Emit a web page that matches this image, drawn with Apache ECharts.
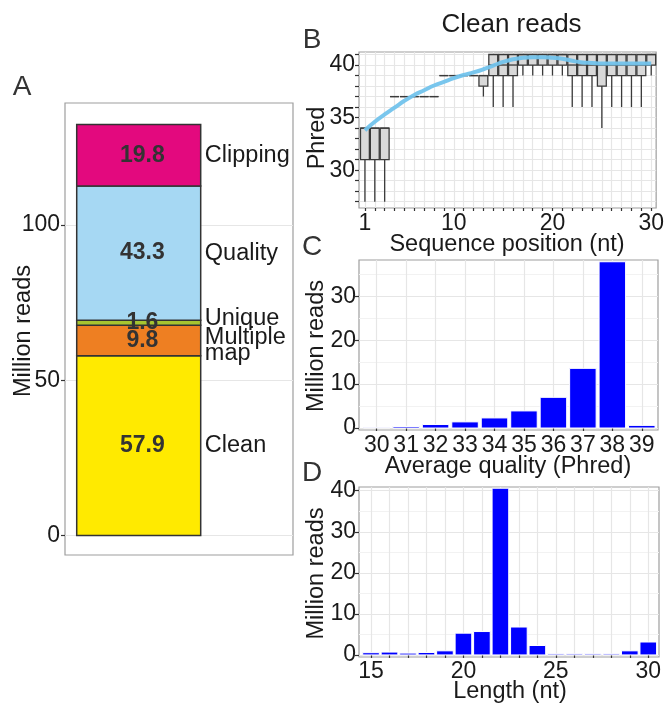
<!DOCTYPE html>
<html><head><meta charset="utf-8">
<script src="https://cdn.jsdelivr.net/npm/echarts@6/dist/echarts.min.js"></script>
<style>html,body{margin:0;padding:0;background:#fff}#c{width:667px;height:704px}</style>
</head><body><div id="c"></div>
<script>
// ---------- Panel A: read fate (million reads) ----------
const segNames  = ['Clean', 'Multiple\nmap', 'Unique', 'Quality', 'Clipping'];
const segValues = [57.9, 9.8, 1.6, 43.3, 19.8];
const segColors = ['#FFEA00', '#EE7F22', '#A6C530', '#A6D8F3', '#E3097E'];
const aYTicks   = [0, 50, 100];

// ---------- Panel B: per-position Phred boxplots ----------
const seqPos  = [1,2,3,4,5,6,7,8,9,10,11,12,13,14,15,16,17,18,19,20,21,22,23,24,25,26,27,28,29,30];
const boxMin  = [27,27,27,37,37,37,37,37,39,39,39,39,37,36,36,36,39,39,39,39,39,36,36,36,34,36,36,36,36,39];
const boxQ1   = [31,31,31,37,37,37,37,37,39,39,39,39,38,39,39,39,40,40,40,40,40,39,39,39,38,39,39,39,39,40];
const boxMed  = [34,34,34,37,37,37,37,37,39,39,39,39,39,40,40,40,41,41,41,41,41,40,40,40,40,40,40,40,40,41];
const boxQ3   = [34,34,34,37,37,37,37,37,39,39,39,39,39,41,41,41,41,41,41,41,41,41,41,41,41,41,41,41,41,41];
const boxMax  = [34,34,34,37,37,37,37,37,39,39,39,39,39,41,41,41,41,41,41,41,41,41,41,41,41,41,41,41,41,41];
const phredSmooth = [33.8,34.6,35.3,35.95,36.6,37.15,37.6,38.05,38.4,38.75,39.05,39.3,39.6,39.95,40.3,40.55,40.7,40.75,40.75,40.7,40.6,40.4,40.25,40.2,40.15,40.15,40.15,40.15,40.15,40.15];
const bYGrid   = [27,28,29,30,31,32,33,34,35,36,37,38,39,40,41];
const bYLabels = [30, 35, 40];
const bXLabels = [1, 10, 20, 30];

// ---------- Panel C: average quality histogram ----------
const qualityCats  = [30,31,32,33,34,35,36,37,38,39];
const qualityReads = [0.15,0.35,0.8,1.4,2.3,3.9,7.0,13.6,37.9,0.6];
const cYTicks = [0, 10, 20, 30];

// ---------- Panel D: length histogram ----------
const lengths     = [15,16,17,18,19,20,21,22,23,24,25,26,27,28,29,30];
const lengthReads = [0.55,0.7,0.45,0.6,1.0,5.3,5.7,40.6,6.8,2.3,0.25,0.25,0.25,0.25,1.0,3.15];
const dYTicks  = [0, 10, 20, 30, 40];
const dXLabels = [15, 20, 25, 30];

// ---------- drawing ----------
const FONT = "'Liberation Sans', Arial, Helvetica, sans-serif";
const TXT = '#1a1a1a';
const TICK_FS = 23, TITLE_FS = 23.5;
const labelNudgePx = [0, 5, -4, 0, 0];

const segBottoms = [];
{ let acc = 0; segValues.forEach(v => { segBottoms.push(acc); acc += v; }); }

function txt(text, x, y, opts) {
  opts = opts || {};
  return {
    type: 'text', x: x, y: y, rotation: opts.rot || 0, z: 100,
    style: {
      text: text, fill: opts.color || TXT, fontFamily: FONT,
      fontSize: opts.size || TITLE_FS, fontWeight: opts.weight || 'normal',
      align: opts.align || 'center', verticalAlign: 'middle',
      textAlign: opts.align || 'center', textVerticalAlign: 'middle'
    }
  };
}

const gridLine = { show: true, lineStyle: { color: '#e6e6e6', width: 1.2 } };
const tickStyle = { lineStyle: { color: '#333', width: 1.2 } };
function lbl(custom, margin) {
  return { customValues: custom, margin: margin, fontSize: TICK_FS, color: TXT, fontFamily: FONT };
}

function barRender(color) {
  return function (params, api) {
    const x = api.value(0), v = api.value(1);
    const a = api.coord([x - 0.45, 0]);
    const b = api.coord([x + 0.45, v]);
    return { type: 'rect', shape: { x: a[0], y: b[1], width: b[0] - a[0], height: a[1] - b[1] },
             style: { fill: color, stroke: '#ffffff', lineWidth: 1 } };
  };
}

const option = {
  animation: false,
  backgroundColor: '#ffffff',
  grid: [
    { left: 65, top: 103, width: 228, height: 452, show: true, borderColor: '#9e9e9e', borderWidth: 1.2 },
    { left: 359, top: 52, width: 299, height: 156, show: true, borderColor: '#9e9e9e', borderWidth: 1.2 },
    { left: 359, top: 260, width: 299, height: 170, show: true, borderColor: '#9e9e9e', borderWidth: 1.2 },
    { left: 359, top: 487, width: 300, height: 170, show: true, borderColor: '#9e9e9e', borderWidth: 1.2 }
  ],
  xAxis: [
    { gridIndex: 0, type: 'value', min: 0.465, max: 2.12, show: false },
    { gridIndex: 1, type: 'value', min: 0.4, max: 30.5,
      axisLine: { show: false }, axisTick: Object.assign({ customValues: seqPos, length: 3 }, tickStyle),
      axisLabel: lbl(bXLabels, 4), splitLine: gridLine },
    { gridIndex: 2, type: 'value', min: 29.4, max: 39.55,
      axisLine: { show: false }, axisTick: Object.assign({ customValues: qualityCats, length: 3 }, tickStyle),
      axisLabel: lbl(qualityCats, 4), splitLine: gridLine },
    { gridIndex: 3, type: 'value', min: 14.35, max: 30.58,
      axisLine: { show: false }, axisTick: Object.assign({ customValues: lengths, length: 3 }, tickStyle),
      axisLabel: lbl(dXLabels, 3.5), splitLine: gridLine }
  ],
  yAxis: [
    { gridIndex: 0, type: 'value', min: -6.28, max: 139.3,
      axisLine: { show: false }, axisTick: Object.assign({ customValues: aYTicks, length: 4 }, tickStyle),
      axisLabel: lbl(aYTicks, 5), splitLine: gridLine },
    { gridIndex: 1, type: 'value', min: 26.4, max: 41.24,
      axisLine: { show: false }, axisTick: Object.assign({ customValues: bYGrid, length: 4 }, tickStyle),
      axisLabel: lbl(bYLabels, 4), splitLine: gridLine },
    { gridIndex: 2, type: 'value', min: -0.45, max: 38.3,
      axisLine: { show: false }, axisTick: Object.assign({ customValues: cYTicks, length: 4 }, tickStyle),
      axisLabel: lbl(cYTicks, 3), splitLine: gridLine,
      minorTick: { show: false, splitNumber: 2 },
      minorSplitLine: { show: true, lineStyle: { color: '#f2f2f2', width: 1 } } },
    { gridIndex: 3, type: 'value', min: -0.5, max: 40.9,
      axisLine: { show: false }, axisTick: Object.assign({ customValues: dYTicks, length: 4 }, tickStyle),
      axisLabel: lbl(dYTicks, 3), splitLine: gridLine,
      minorTick: { show: false, splitNumber: 2 },
      minorSplitLine: { show: true, lineStyle: { color: '#f2f2f2', width: 1 } } }
  ],
  series: [
    // A: stacked segments
    { type: 'custom', xAxisIndex: 0, yAxisIndex: 0, z: 2,
      data: segValues.map((v, i) => [segBottoms[i], segBottoms[i] + v]),
      renderItem: function (p, api) {
        const a = api.coord([0.55, api.value(0)]);
        const b = api.coord([1.45, api.value(1)]);
        return { type: 'rect', shape: { x: a[0], y: b[1], width: b[0] - a[0], height: a[1] - b[1] },
                 style: { fill: segColors[p.dataIndex], stroke: '#333', lineWidth: 1.5 } };
      } },
    // A: texts
    { type: 'custom', xAxisIndex: 0, yAxisIndex: 0, z: 5,
      data: segValues.map((v, i) => [segBottoms[i] + v / 2, v]),
      renderItem: function (p, api) {
        const mid = api.value(0);
        const pv = api.coord([1.027, mid]);
        const pn = api.coord([1.48, mid]);
        return { type: 'group', children: [
          { type: 'text', x: pv[0], y: pv[1], style: { text: api.value(1).toFixed(1), fill: '#333',
              fontFamily: FONT, fontSize: 23, fontWeight: 'bold', align: 'center', verticalAlign: 'middle' } },
          { type: 'text', x: pn[0], y: pn[1] + labelNudgePx[p.dataIndex], style: { text: segNames[p.dataIndex], fill: TXT,
              fontFamily: FONT, fontSize: TITLE_FS, lineHeight: 16, align: 'left', verticalAlign: 'middle' } }
        ] };
      } },
    // B: boxplots
    { type: 'custom', xAxisIndex: 1, yAxisIndex: 1, z: 2,
      data: seqPos.map((p, i) => [p, boxMin[i], boxQ1[i], boxMed[i], boxQ3[i], boxMax[i]]),
      renderItem: function (p, api) {
        const x = api.value(0);
        const lo = api.coord([x, api.value(1)]), q1 = api.coord([x, api.value(2)]);
        const q3 = api.coord([x, api.value(4)]), hi = api.coord([x, api.value(5)]);
        const L = api.coord([x - 0.45, api.value(2)]), R = api.coord([x + 0.45, api.value(4)]);
        const mL = api.coord([x - 0.45, api.value(3)]), mR = api.coord([x + 0.45, api.value(3)]);
        const st = { stroke: '#3a3a3a', lineWidth: 1.3 };
        return { type: 'group', children: [
          { type: 'line', shape: { x1: lo[0], y1: lo[1], x2: q1[0], y2: q1[1] }, style: st },
          { type: 'line', shape: { x1: q3[0], y1: q3[1], x2: hi[0], y2: hi[1] }, style: st },
          { type: 'rect', shape: { x: L[0], y: R[1], width: R[0] - L[0], height: L[1] - R[1] },
            style: { fill: '#D9D9D9', stroke: '#3a3a3a', lineWidth: 1.3 } },
          { type: 'line', shape: { x1: mL[0], y1: mL[1], x2: mR[0], y2: mR[1] }, style: st }
        ] };
      } },
    // B: smooth
    { type: 'line', xAxisIndex: 1, yAxisIndex: 1, z: 6, smooth: true, showSymbol: false, symbol: 'none',
      data: seqPos.map((p, i) => [p, phredSmooth[i]]),
      lineStyle: { color: '#72C3EC', width: 4, opacity: 0.95 } },
    // C bars
    { type: 'custom', xAxisIndex: 2, yAxisIndex: 2, z: 2,
      data: qualityCats.map((c, i) => [c, qualityReads[i]]), renderItem: barRender('#0000FF') },
    // D bars
    { type: 'custom', xAxisIndex: 3, yAxisIndex: 3, z: 2,
      data: lengths.map((c, i) => [c, lengthReads[i]]), renderItem: barRender('#0000FF') }
  ],
  graphic: [
    txt('A', 22, 87, { size: 28, color: '#333' }),
    txt('B', 312, 40, { size: 28, color: '#333' }),
    txt('C', 312, 247, { size: 28, color: '#333' }),
    txt('D', 312, 473, { size: 28, color: '#333' }),
    txt('Clean reads', 511.5, 25, { size: 26 }),
    txt('Million reads', 23.5, 331, { rot: Math.PI / 2 }),
    txt('Phred', 317.5, 138, { rot: Math.PI / 2 }),
    txt('Million reads', 316.5, 346, { rot: Math.PI / 2 }),
    txt('Million reads', 316.5, 573.5, { rot: Math.PI / 2 }),
    txt('Sequence position (nt)', 507, 245),
    txt('Average quality (Phred)', 508, 466.5),
    txt('Length (nt)', 510, 691.5)
  ]
};

const chart = echarts.init(document.getElementById('c'), null, { renderer: 'canvas' });
chart.setOption(option);
</script>
</body></html>
